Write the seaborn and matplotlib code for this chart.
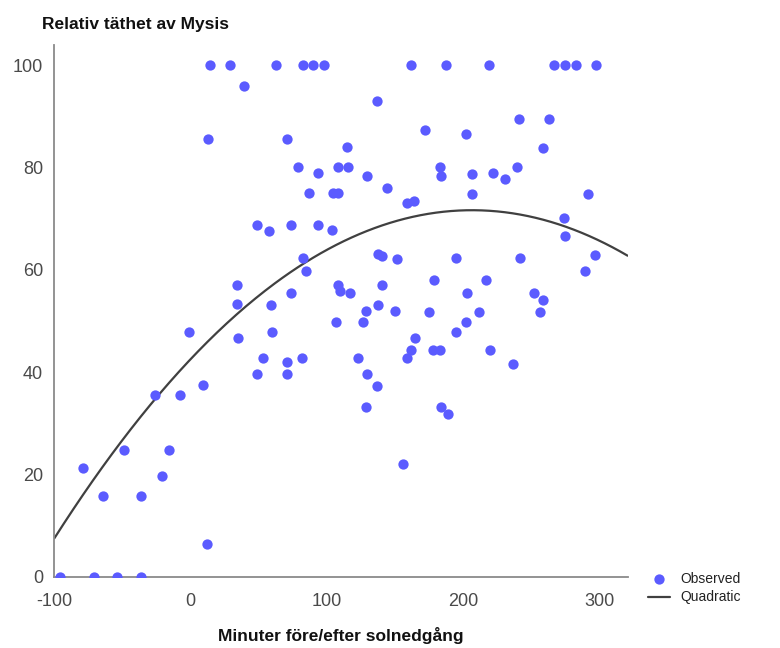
import numpy as np
import pandas as pd
import seaborn as sns
import matplotlib.pyplot as plt

# Observed points (minutes relative to sunset, relative Mysis density)
minutes = [14, 29, 63, 83, 90, 98, 162, 188, 219, 267, 275, 283, 298,
           13, 39, 71, 137, 115, 79, 94, 108, 116, 130, 144, 159, 164,
           87, 105, 108, 49, 58, 74, 94, 104,
           172, 202, 241, 263, 259, 183, 184, 207, 222, 231, 240, 207, 292, 274, 275,
           34, 34, 35, -1, -26, -8, 9,
           83, 85, 59, 74, 60, 53, 49, 71, 71, 82, 108, 110, 117, 138, 141, 152,
           141, 138, 129, 150, 107, 127, 165, 162, 159, 123, 130, 137, 129,
           297, 290, 195, 242, 179, 217, 203, 252, 259, 257, 175, 212, 202, 195,
           178, 183, 220, 237, 184, 189,
           -49, -16, -79, -21, -64, -36, 12, -96, -71, -54, -36, 156]
density = [100, 100, 100, 100, 100, 100, 100, 100, 100, 100, 100, 100, 100,
           85.5, 96, 85.5, 93, 84, 80, 79, 80, 80, 78.4, 76, 73, 73.5,
           75, 75, 75, 68.7, 67.6, 68.7, 68.7, 67.8,
           87.3, 86.5, 89.4, 89.4, 83.8, 80, 78.4, 78.8, 79, 77.7, 80, 74.8, 74.8, 70.2, 66.6,
           57, 53.4, 46.6, 47.9, 35.6, 35.6, 37.5,
           62.4, 59.8, 53.2, 55.4, 47.9, 42.7, 39.7, 42, 39.7, 42.7, 57, 55.8, 55.4, 63, 62.7, 62.2,
           57, 53.2, 51.9, 51.9, 49.8, 49.8, 46.6, 44.3, 42.7, 42.7, 39.7, 37.3, 33.1,
           62.9, 59.8, 62.4, 62.4, 58.1, 58.1, 55.4, 55.4, 54.1, 51.7, 51.8, 51.8, 49.8, 47.8,
           44.3, 44.3, 44.3, 41.5, 33.2, 31.8,
           24.8, 24.8, 21.2, 19.7, 15.8, 15.8, 6.4, 0, 0, 0, 0, 22]

# Quadratic fit coefficients (a, b, c)
quad_coef = [-6.816e-4, 0.2819, 42.5]

x_ticks = [-100, 0, 100, 200, 300]
y_ticks = [0, 20, 40, 60, 80, 100]

title_text = "Relativ täthet av Mysis"
xlabel_text = "Minuter före/efter solnedgång"
legend_labels = ["Observed", "Quadratic"]

sns.set_style("white")
plt.rcParams['font.family'] = ['Liberation Sans', 'DejaVu Sans']
plt.rcParams['axes.unicode_minus'] = False

fig = plt.figure(figsize=(7.8, 6.48), dpi=100)
ax = fig.add_axes([0.0696, 0.110, 0.735, 0.821])

df = pd.DataFrame({"x": minutes, "y": density})
sns.scatterplot(data=df, x="x", y="y", color="#5b5bff", s=55, linewidth=0,
                ax=ax, label=legend_labels[0], zorder=3)

xs = np.linspace(-100, 321, 300)
ys = np.polyval(quad_coef, xs)
sns.lineplot(x=xs, y=ys, color="#404040", linewidth=1.6, ax=ax,
             label=legend_labels[1], sort=False, zorder=2)

ax.set_xlim(-100, 321)
ax.set_ylim(0, 104)
ax.set_xticks(x_ticks)
ax.set_yticks(y_ticks)
ax.set_xlabel("")
ax.set_ylabel("")

for s in ["top", "right"]:
    ax.spines[s].set_visible(False)
for s in ["left", "bottom"]:
    ax.spines[s].set_color("#8a8a8a")
    ax.spines[s].set_linewidth(1.3)
ax.tick_params(axis="both", direction="out", length=6, width=1.3,
               color="#6a6a6a", labelcolor="#4a4a4a", labelsize=13)
ax.tick_params(axis="x", pad=6)
ax.tick_params(axis="y", pad=2)

fig.text(42 / 780, 1 - 25 / 648, title_text, fontsize=12.5, fontweight="bold",
         ha="left", va="center", color="#111111")
fig.text(341 / 780, 1 - 636 / 648, xlabel_text, fontsize=12.5, fontweight="bold",
         ha="center", va="center", color="#111111")

leg = ax.legend(loc="center left", bbox_to_anchor=(648 / 780, 1 - 588 / 648),
                bbox_transform=fig.transFigure, frameon=False, fontsize=10,
                handlelength=1.6, handletextpad=0.7, labelspacing=0.35,
                borderaxespad=0, borderpad=0)
for t in leg.get_texts():
    t.set_color("#222222")

fig.savefig("out.png", dpi=100)
